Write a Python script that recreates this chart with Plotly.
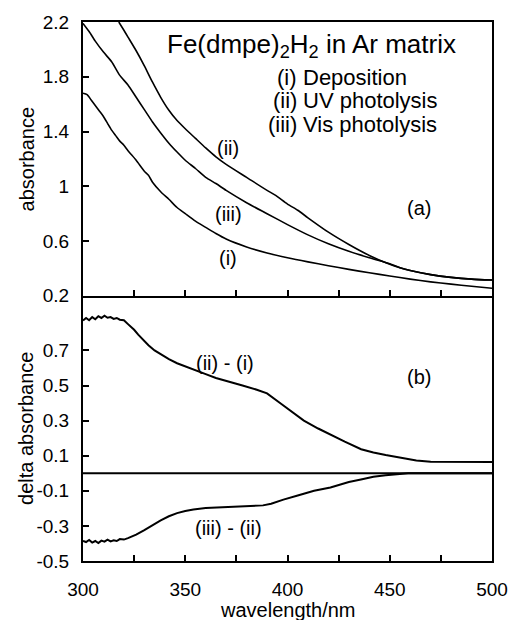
import plotly.graph_objects as go

# ---------------- data ----------------
wl_i = [300, 302, 304, 306, 308, 310, 312, 314, 316, 318, 320, 322, 326, 330, 332, 334,
        338, 342, 346, 350, 355, 360, 365, 370, 380, 390, 400, 410, 420, 430, 440, 450,
        460, 470, 480, 490, 500]
abs_i = [1.68, 1.67, 1.63, 1.59, 1.55, 1.51, 1.46, 1.41, 1.37, 1.33, 1.30, 1.26, 1.19, 1.11, 1.08, 1.03,
         0.96, 0.905, 0.845, 0.80, 0.745, 0.70, 0.655, 0.615, 0.557, 0.513, 0.478, 0.448, 0.42, 0.393, 0.368, 0.345,
         0.322, 0.302, 0.285, 0.27, 0.255]

wl_ii = [317.5, 320, 322, 326, 330, 334, 338, 342, 346, 350, 355, 360, 365, 370, 380, 390, 394,
         400, 405, 410, 420, 430, 440, 450, 455, 460, 470, 480, 490, 500]
abs_ii = [2.20, 2.14, 2.09, 1.99, 1.88, 1.76, 1.65, 1.555, 1.48, 1.42, 1.35, 1.28, 1.215, 1.16, 1.065, 0.97, 0.935,
          0.87, 0.825, 0.77, 0.665, 0.575, 0.495, 0.43, 0.405, 0.385, 0.355, 0.335, 0.322, 0.315]

wl_iii = [300, 303, 306, 310, 314, 318, 322, 326, 330, 334, 338, 342, 346, 350, 355, 360, 365, 370,
          380, 390, 400, 410, 420, 430, 440, 450, 455, 460, 470, 480, 490, 500]
abs_iii = [2.19, 2.13, 2.06, 1.98, 1.91, 1.81, 1.74, 1.65, 1.56, 1.47, 1.39, 1.315, 1.25, 1.19, 1.13, 1.065, 1.02, 0.97,
           0.88, 0.80, 0.72, 0.645, 0.58, 0.525, 0.478, 0.435, 0.405, 0.385, 0.355, 0.335, 0.322, 0.315]

wl_d1 = [300, 301.5, 303, 304.5, 306, 307.5, 309, 310.5, 312, 313.5, 315, 316.5, 318, 320, 322, 325, 327,
         330, 332, 335, 338, 342, 346, 350, 354, 360, 365, 370, 378, 385, 390, 397, 402, 408, 415, 421,
         428, 436, 442, 448, 455, 463, 470, 480, 490, 500]
d_ii_i = [0.87, 0.885, 0.872, 0.89, 0.878, 0.895, 0.885, 0.898, 0.886, 0.89, 0.88, 0.885, 0.875, 0.872, 0.85, 0.818, 0.79,
          0.752, 0.73, 0.70, 0.678, 0.65, 0.627, 0.608, 0.59, 0.565, 0.543, 0.528, 0.50, 0.476, 0.455, 0.395, 0.352, 0.30, 0.255, 0.219,
          0.18, 0.137, 0.118, 0.104, 0.088, 0.073, 0.066, 0.064, 0.064, 0.064]

wl_d2 = [300, 301.5, 303, 304.5, 306, 307.5, 309, 310.5, 312, 313.5, 315, 316.5, 318, 320, 322, 326, 330,
         334, 338, 342, 346, 350, 354, 360, 370, 381, 388, 392, 398, 405, 413, 421, 430, 436.5, 442, 448,
         454, 459, 470, 500]
d_iii_ii = [-0.385, -0.392, -0.38, -0.395, -0.386, -0.398, -0.384, -0.39, -0.378, -0.388, -0.382, -0.386, -0.375, -0.378, -0.37, -0.35, -0.324,
            -0.295, -0.268, -0.245, -0.227, -0.215, -0.206, -0.198, -0.193, -0.189, -0.183, -0.174, -0.15, -0.127, -0.10, -0.081, -0.05, -0.034, -0.02, -0.012,
            -0.005, 0.0, 0.0, 0.0]

wl_zero = [300, 500]
zero_line = [0.0, 0.0]

ya_tickvals = [0.2, 0.6, 1.0, 1.4, 1.8, 2.2]
ya_ticktext = ["0.2", "0.6", "1", "1.4", "1.8", "2.2"]
yb_tickvals = [-0.5, -0.3, -0.1, 0.1, 0.3, 0.5, 0.7]
yb_ticktext = ["-0.5", "-0.3", "-0.1", "0.1", "0.3", "0.5", "0.7"]

title_text = "Fe(dmpe)<sub>2</sub>H<sub>2</sub> in Ar matrix"
legend_nums = ["(i)", "(ii)", "(iii)"]
legend_names = ["Deposition", "UV photolysis", "Vis photolysis"]

# ---------------- figure ----------------
FONT = "Liberation Sans, Arial, sans-serif"
fig = go.Figure()

line_a = dict(color="black", width=1.6, shape="spline", smoothing=0.6)
line_b = dict(color="black", width=2)
fig.add_trace(go.Scatter(x=wl_i, y=abs_i, mode="lines", line=line_a, xaxis="x", yaxis="y"))
fig.add_trace(go.Scatter(x=wl_ii, y=abs_ii, mode="lines", line=line_a, xaxis="x", yaxis="y"))
fig.add_trace(go.Scatter(x=wl_iii, y=abs_iii, mode="lines", line=line_a, xaxis="x", yaxis="y"))
fig.add_trace(go.Scatter(x=wl_d1, y=d_ii_i, mode="lines", line=line_b, xaxis="x2", yaxis="y2"))
fig.add_trace(go.Scatter(x=wl_d2, y=d_iii_ii, mode="lines", line=line_b, xaxis="x2", yaxis="y2"))
fig.add_trace(go.Scatter(x=wl_zero, y=zero_line, mode="lines", line=line_b, xaxis="x2", yaxis="y2"))

tickfont = dict(family=FONT, size=19, color="black")
common_x = dict(range=[300, 500], tick0=300, dtick=50, ticks="inside", ticklen=6,
                tickwidth=1.5, tickcolor="black", showline=True, linecolor="black", linewidth=2,
                mirror=True, showgrid=False, zeroline=False, tickfont=tickfont,
                minor=dict(tick0=300, dtick=25, ticks="inside", ticklen=6, tickwidth=1.5,
                           tickcolor="black", showgrid=False))
common_y = dict(ticks="inside", ticklen=6, tickwidth=1.5, tickcolor="black", showline=True,
                linecolor="black", linewidth=2, mirror=True, showgrid=False, zeroline=False,
                tickfont=tickfont, ticklabelstandoff=8)

split = 0.492
px2 = 2.0 / 543.0
fig.update_layout(
    width=520, height=620,
    margin=dict(l=83, r=16, t=18, b=59),
    paper_bgcolor="white", plot_bgcolor="white",
    showlegend=False,
    font=dict(family=FONT, color="black"),
    xaxis=dict(common_x, anchor="y", showticklabels=False),
    yaxis=dict(common_y, domain=[split, 1], range=[0.2, 2.2], tickvals=ya_tickvals,
               ticktext=ya_ticktext, anchor="x"),
    xaxis2=dict(common_x, anchor="y2", ticklabelstandoff=10),
    yaxis2=dict(common_y, domain=[0, split - px2], range=[-0.5, 1.0], tickvals=yb_tickvals,
                ticktext=yb_ticktext, anchor="x2"),
)

ann = []
def add(text, x, y, xref="x", yref="y", size=20, xanchor="center", yanchor="middle", angle=0):
    ann.append(dict(text=text, x=x, y=y, xref=xref, yref=yref, showarrow=False,
                    font=dict(family=FONT, size=size, color="black"),
                    xanchor=xanchor, yanchor=yanchor, textangle=angle))

add(title_text, 411.8, 2.03, size=26)
leg_y = [1.795, 1.627, 1.452]
for num, name, yy in zip(legend_nums, legend_names, leg_y):
    add(num, 405.5, yy, size=22, xanchor="right")
    add(name, 406.8, yy, size=22, xanchor="left")
add("(ii)", 370.8, 1.279)
add("(iii)", 371.3, 0.798)
add("(i)", 370.8, 0.479)
add("(a)", 464.4, 0.842)
add("(b)", 464.4, 0.547, xref="x2", yref="y2")
add("(ii) - (i)", 369.4, 0.631, xref="x2", yref="y2")
add("(iii) - (ii)", 371.3, -0.313, xref="x2", yref="y2")

# axis titles (paper coords)
add("absorbance", -0.138, (split + 1) / 2, xref="paper", yref="paper", angle=-90)
add("delta absorbance", -0.138, split / 2, xref="paper", yref="paper", angle=-90)
add("wavelength/nm", 0.5, -0.09, xref="paper", yref="paper", yanchor="middle")
fig.update_layout(annotations=ann)

fig.write_html("out.html")
